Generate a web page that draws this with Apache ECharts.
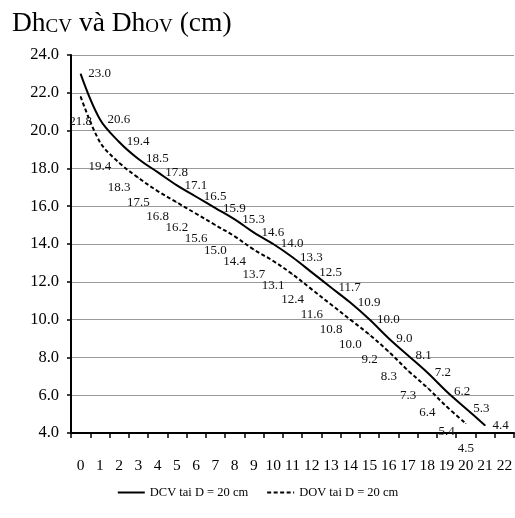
<!DOCTYPE html>
<html>
<head>
<meta charset="utf-8">
<script src="https://cdn.jsdelivr.net/npm/echarts@6/dist/echarts.min.js"></script>
<style>
html,body{margin:0;padding:0;background:#fff;}
#chart{width:515px;height:518px;}
</style>
</head>
<body>
<div id="chart"></div>
<script>
var categories = ['0','1','2','3','4','5','6','7','8','9','10','11','12','13','14','15','16','17','18','19','20','21','22'];
var dcv = [23.0,20.6,19.4,18.5,17.8,17.1,16.5,15.9,15.3,14.6,14.0,13.3,12.5,11.7,10.9,10.0,9.0,8.1,7.2,6.2,5.3,4.4];
var dov = [21.8,19.4,18.3,17.5,16.8,16.2,15.6,15.0,14.4,13.7,13.1,12.4,11.6,10.8,10.0,9.2,8.3,7.3,6.4,5.4,4.5];
var seriesNames = ['DCV tai D = 20 cm','DOV tai D = 20 cm'];

var FONT = '"Liberation Serif", "Times New Roman", serif';
var chart = echarts.init(document.getElementById('chart'));
chart.setOption({
  animation: false,
  backgroundColor: '#fff',
  title: {
    text: '{a|Dh}{b|CV}{a| và Dh}{b|OV}{a| (cm)}',
    left: 7,
    top: 3,
    textStyle: {
      fontWeight: 'normal',
      rich: {
        a: {fontFamily: FONT, fontSize: 27.5, fontWeight: 'normal', color: '#000', verticalAlign: 'bottom', lineHeight: 30},
        b: {fontFamily: FONT, fontSize: 19, fontWeight: 'normal', color: '#000', verticalAlign: 'bottom', lineHeight: 30, padding: [0,0,1,0]}
      }
    }
  },
  legend: {
    bottom: 14,
    left: 'center',
    itemWidth: 27,
    itemHeight: 10,
    itemGap: 18,
    itemStyle: {opacity: 0},
    textStyle: {fontFamily: FONT, fontSize: 12.5, color: '#000'},
    data: seriesNames
  },
  grid: {left: 71, top: 55, height: 378, width: 449, containLabel: false},
  xAxis: {
    type: 'category',
    data: categories,
    boundaryGap: true,
    axisLine: {lineStyle: {color: '#000', width: 2}},
    axisTick: {show: true, length: 5, inside: false, alignWithLabel: false, lineStyle: {color: '#000', width: 1.5}},
    axisLabel: {fontFamily: FONT, fontSize: 15.5, color: '#000', margin: 25, interval: 0},
    splitLine: {show: false}
  },
  yAxis: {
    type: 'value',
    min: 4, max: 24, interval: 2,
    axisLine: {show: true, lineStyle: {color: '#000', width: 2}},
    axisTick: {show: true, length: 4, inside: false, lineStyle: {color: '#000', width: 1.5}},
    axisLabel: {fontFamily: FONT, fontSize: 16.5, color: '#000', margin: 12, formatter: function(v){return v.toFixed(1);}},
    splitLine: {show: true, lineStyle: {color: '#9a9a9a', width: 1.2}}
  },
  series: [
    {
      name: seriesNames[0],
      type: 'line',
      data: dcv,
      smooth: 0.35,
      symbol: 'circle',
      symbolSize: 1,
      itemStyle: {color: '#000'},
      lineStyle: {color: '#000', width: 2},
      label: {show: true, position: 'right', distance: 7, fontFamily: FONT, fontSize: 13, color: '#111',
        formatter: function(p){return p.value.toFixed(1);}}
    },
    {
      name: seriesNames[1],
      type: 'line',
      data: dov,
      smooth: 0.35,
      symbol: 'circle',
      symbolSize: 1,
      itemStyle: {color: '#000'},
      lineStyle: {color: '#000', width: 2, type: [4, 2.5]},
      label: {show: true, position: 'bottom', distance: 18, fontFamily: FONT, fontSize: 13, color: '#111',
        formatter: function(p){return p.value.toFixed(1);}}
    }
  ]
});
</script>
</body>
</html>
